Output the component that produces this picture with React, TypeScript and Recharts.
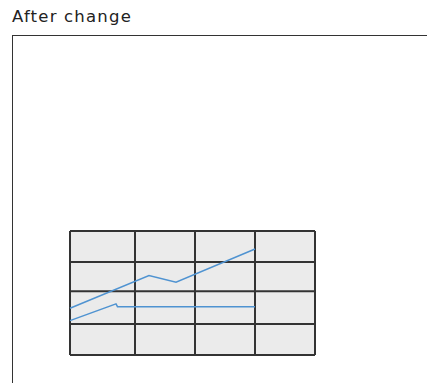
import { LineChart, Line, XAxis, YAxis, CartesianGrid } from 'recharts';

// x positions along the panel, y values on a 0–4 scale
const upperX = [0, 79, 106, 185];
const upperY = [1.51, 2.56, 2.35, 3.42];
const lowerX = [0, 46, 47.5, 185];
const lowerY = [1.11, 1.65, 1.56, 1.56];

const xTicks = [0, 65, 125, 185, 245];
const yTicks = [0, 1, 2.06, 3, 4];

const upper = upperX.map((x, i) => ({ x, y: upperY[i] }));
const lower = lowerX.map((x, i) => ({ x, y: lowerY[i] }));

const LINE_COLOR = '#4f93d1';

export default function App() {
  return (
    <div style={{ position: 'absolute', left: 0, top: 0, width: 427, height: 383, overflow: 'hidden', background: '#fff' }}>
      <div
        style={{
          position: 'absolute',
          left: 12,
          top: 9,
          fontFamily: '"DejaVu Sans", sans-serif',
          fontSize: 16.5,
          lineHeight: '16.5px',
          letterSpacing: '1.2px',
          color: '#222',
          whiteSpace: 'nowrap',
        }}
      >
        After change
      </div>
      <div
        style={{
          position: 'absolute',
          left: 12,
          top: 35,
          width: 500,
          height: 400,
          borderLeft: '1px solid #333',
          borderTop: '1px solid #333',
        }}
      />
      <div style={{ position: 'absolute', left: 0, top: 0 }}>
        <LineChart width={427} height={383} margin={{ top: 231, right: 112, bottom: 28, left: 70 }}>
          <CartesianGrid stroke="#333" strokeWidth={2} fill="#ebebeb" fillOpacity={1} />
          <XAxis type="number" dataKey="x" domain={[0, 245]} ticks={xTicks} hide />
          <YAxis type="number" dataKey="y" domain={[0, 4]} ticks={yTicks} hide />
          <Line data={upper} dataKey="y" stroke={LINE_COLOR} strokeWidth={1.5} dot={false} isAnimationActive={false} />
          <Line data={lower} dataKey="y" stroke={LINE_COLOR} strokeWidth={1.5} dot={false} isAnimationActive={false} />
        </LineChart>
      </div>
    </div>
  );
}
